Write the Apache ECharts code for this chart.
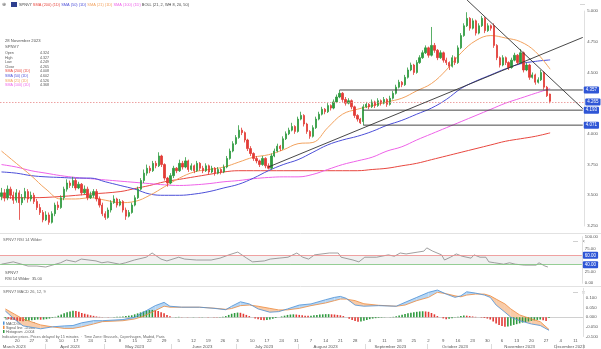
<!DOCTYPE html>
<html><head><meta charset="utf-8">
<script src="https://cdn.jsdelivr.net/npm/echarts@6/dist/echarts.min.js"></script>
<style>html,body{margin:0;padding:0;background:#fff}#c{width:601px;height:349px}</style>
</head><body><div id="c"></div>
<script>
// ---------- DATA ----------
const seriesName = 'SPNV7';
const infoDate = '28 November 2023';
const opens=[3.49,3.52,3.48,3.55,3.50,3.46,3.52,3.44,3.48,3.53,
3.47,3.50,3.45,3.40,3.36,3.30,3.34,3.28,3.35,3.42,
3.40,3.48,3.55,3.60,3.58,3.62,3.56,3.59,3.52,3.55,
3.48,3.50,3.53,3.47,3.42,3.35,3.32,3.38,3.44,3.47,
3.42,3.45,3.38,3.33,3.36,3.42,3.48,3.55,3.62,3.68,
3.72,3.70,3.76,3.74,3.82,3.75,3.64,3.60,3.66,3.72,
3.70,3.76,3.73,3.78,3.71,3.74,3.70,3.76,3.72,3.70,
3.74,3.69,3.72,3.68,3.71,3.69,3.73,3.80,3.86,3.92,
3.97,4.03,4.01,3.95,3.88,3.84,3.80,3.78,3.75,3.80,
3.74,3.72,3.82,3.86,3.90,3.88,3.96,4.00,4.03,4.06,
4.02,4.12,4.15,4.08,4.02,3.98,4.05,4.12,4.16,4.20,
4.18,4.23,4.21,4.26,4.30,4.33,4.28,4.25,4.27,4.22,
4.15,4.12,4.10,4.22,4.24,4.22,4.26,4.23,4.27,4.25,
4.28,4.24,4.29,4.33,4.38,4.42,4.40,4.46,4.52,4.56,
4.50,4.58,4.62,4.66,4.70,4.64,4.72,4.68,4.62,4.66,
4.60,4.58,4.55,4.62,4.58,4.70,4.80,4.88,4.94,4.86,
4.92,4.82,4.88,4.94,4.84,4.88,4.88,4.72,4.62,4.56,
4.62,4.58,4.54,4.60,4.64,4.58,4.66,4.52,4.56,4.46,
4.48,4.42,4.44,4.50,4.38,4.324];
const closes=[3.52,3.48,3.55,3.50,3.46,3.52,3.44,3.48,3.53,3.47,
3.50,3.45,3.40,3.36,3.30,3.34,3.28,3.35,3.42,3.40,
3.48,3.55,3.60,3.58,3.62,3.56,3.59,3.52,3.55,3.48,
3.50,3.53,3.47,3.42,3.35,3.32,3.38,3.44,3.47,3.42,
3.45,3.38,3.33,3.36,3.42,3.48,3.55,3.62,3.68,3.72,
3.70,3.76,3.74,3.82,3.75,3.64,3.60,3.66,3.72,3.70,
3.76,3.73,3.78,3.71,3.74,3.70,3.76,3.72,3.70,3.74,
3.69,3.72,3.68,3.71,3.69,3.73,3.80,3.86,3.92,3.97,
4.03,4.01,3.95,3.88,3.84,3.80,3.78,3.75,3.80,3.74,
3.72,3.82,3.86,3.90,3.88,3.96,4.00,4.03,4.06,4.02,
4.12,4.15,4.08,4.02,3.98,4.05,4.12,4.16,4.20,4.18,
4.23,4.21,4.26,4.30,4.33,4.28,4.25,4.27,4.22,4.15,
4.12,4.09,4.22,4.24,4.22,4.26,4.23,4.27,4.25,4.28,
4.24,4.29,4.33,4.38,4.42,4.40,4.46,4.52,4.56,4.50,
4.58,4.62,4.66,4.70,4.64,4.72,4.68,4.62,4.66,4.60,
4.58,4.55,4.62,4.58,4.70,4.80,4.88,4.94,4.86,4.92,
4.82,4.88,4.94,4.84,4.88,4.86,4.72,4.62,4.56,4.62,
4.58,4.54,4.60,4.64,4.58,4.66,4.52,4.56,4.46,4.48,
4.42,4.44,4.50,4.38,4.31,4.265];
const highs=[3.56,3.55,3.58,3.57,3.53,3.55,3.54,3.51,3.56,3.55,
3.53,3.52,3.47,3.43,3.38,3.37,3.36,3.37,3.44,3.45,
3.50,3.57,3.63,3.62,3.65,3.64,3.61,3.60,3.58,3.57,
3.53,3.55,3.55,3.49,3.44,3.37,3.40,3.46,3.50,3.48,
3.47,3.46,3.40,3.38,3.44,3.50,3.57,3.64,3.71,3.75,
3.74,3.78,3.78,3.85,3.83,3.76,3.65,3.68,3.74,3.73,
3.79,3.78,3.81,3.79,3.76,3.75,3.78,3.77,3.74,3.76,
3.75,3.74,3.73,3.73,3.72,3.75,3.82,3.88,3.94,3.99,
4.07,4.05,4.02,3.96,3.90,3.85,3.82,3.79,3.82,3.81,
3.76,3.84,3.88,3.92,3.91,3.98,4.02,4.05,4.09,4.07,
4.14,4.18,4.16,4.09,4.03,4.07,4.14,4.18,4.22,4.21,
4.25,4.24,4.28,4.32,4.357,4.34,4.30,4.29,4.28,4.23,
4.16,4.13,4.24,4.26,4.25,4.28,4.27,4.29,4.28,4.30,
4.29,4.31,4.35,4.40,4.44,4.43,4.48,4.54,4.58,4.57,
4.60,4.64,4.68,4.72,4.71,4.87,4.74,4.69,4.68,4.67,
4.62,4.59,4.64,4.63,4.72,4.82,4.90,4.99,4.95,4.94,
4.93,4.90,4.96,4.95,4.90,4.89,4.90,4.73,4.63,4.64,
4.63,4.59,4.62,4.66,4.65,4.69,4.67,4.58,4.57,4.50,
4.49,4.46,4.52,4.51,4.39,4.327];
const lows=[3.46,3.45,3.46,3.47,3.43,3.44,3.30,3.42,3.46,3.44,
3.45,3.43,3.38,3.34,3.28,3.29,3.26,3.27,3.33,3.38,
3.39,3.46,3.53,3.56,3.56,3.54,3.55,3.50,3.51,3.46,
3.47,3.48,3.45,3.40,3.33,3.30,3.31,3.36,3.43,3.40,
3.41,3.36,3.30,3.32,3.35,3.41,3.47,3.54,3.60,3.66,
3.68,3.69,3.72,3.73,3.73,3.62,3.57,3.59,3.64,3.68,
3.69,3.71,3.72,3.69,3.70,3.68,3.69,3.70,3.68,3.69,
3.67,3.68,3.66,3.67,3.67,3.68,3.72,3.79,3.85,3.91,
3.96,3.99,3.93,3.86,3.82,3.78,3.76,3.73,3.74,3.72,
3.71,3.71,3.81,3.85,3.86,3.87,3.95,3.99,4.02,4.00,
4.01,4.11,4.06,4.00,3.96,3.97,4.04,4.11,4.15,4.16,
4.17,4.19,4.20,4.25,4.29,4.26,4.23,4.24,4.20,4.13,
4.10,4.08,4.071,4.21,4.20,4.21,4.21,4.22,4.23,4.24,
4.22,4.23,4.28,4.32,4.37,4.38,4.39,4.45,4.51,4.48,
4.49,4.57,4.61,4.65,4.62,4.63,4.66,4.60,4.61,4.58,
4.56,4.52,4.54,4.56,4.57,4.69,4.79,4.87,4.84,4.85,
4.80,4.81,4.87,4.82,4.83,4.84,4.70,4.60,4.54,4.55,
4.56,4.52,4.53,4.59,4.56,4.57,4.50,4.51,4.44,4.45,
4.40,4.41,4.43,4.36,4.30,4.249];
// moving averages: [candle index, value]
const sma21=[[0,3.86],[5,3.76],[10,3.66],[15,3.55],[20,3.47],[25,3.47],[30,3.48],[35,3.46],[40,3.44],[45,3.45],[50,3.50],[55,3.57],[60,3.64],[65,3.69],[70,3.71],[75,3.73],[80,3.77],[85,3.81],[90,3.83],[95,3.87],[100,3.92],[105,3.93],[110,4.05],[115,4.16],[120,4.20],[125,4.23],[130,4.26],[135,4.29],[140,4.35],[145,4.41],[150,4.52],[155,4.66],[160,4.76],[165,4.80],[170,4.78],[175,4.75],[180,4.67],[185,4.526]];
const sma50=[[0,3.69],[5,3.68],[10,3.66],[15,3.65],[20,3.645],[25,3.64],[30,3.64],[35,3.61],[40,3.58],[45,3.55],[50,3.51],[55,3.50],[60,3.50],[65,3.51],[70,3.53],[75,3.56],[80,3.59],[85,3.64],[90,3.70],[95,3.75],[100,3.79],[105,3.85],[110,3.91],[115,3.95],[120,3.98],[125,4.02],[130,4.07],[135,4.11],[140,4.16],[145,4.21],[150,4.28],[155,4.37],[160,4.43],[165,4.48],[170,4.53],[175,4.57],[180,4.59],[185,4.602]];
const sma100=[[0,3.75],[5,3.73],[10,3.70],[15,3.68],[20,3.66],[25,3.645],[30,3.635],[35,3.625],[40,3.615],[45,3.605],[50,3.595],[55,3.585],[60,3.58],[65,3.585],[70,3.595],[75,3.61],[80,3.62],[85,3.635],[90,3.645],[95,3.65],[100,3.65],[105,3.67],[110,3.71],[115,3.75],[120,3.78],[125,3.81],[130,3.86],[135,3.895],[140,3.95],[145,4.00],[150,4.05],[155,4.10],[160,4.15],[165,4.20],[170,4.25],[175,4.29],[180,4.33],[185,4.368]];
const sma200=[[0,3.48],[10,3.48],[20,3.49],[30,3.51],[40,3.53],[45,3.555],[50,3.58],[55,3.61],[60,3.63],[65,3.65],[70,3.67],[75,3.69],[80,3.70],[90,3.70],[100,3.70],[110,3.70],[120,3.70],[125,3.71],[130,3.72],[135,3.74],[140,3.76],[145,3.79],[150,3.82],[155,3.85],[160,3.88],[165,3.91],[170,3.94],[175,3.96],[180,3.98],[185,4.008]];
// drawn trend lines and levels: [candle index, price]
const trendDown=[[157,5.089],[196,4.205]];
const trendUp=[[90,3.73],[196,4.785]];
const levels=[{from:114,price:4.357},{from:122,price:4.193},{from:122,price:4.071}];
const lastPrice=4.265;
// RSI
const rsi=[[0,41],[4,46],[9,37],[12,37],[15,35],[20,44],[22,50],[25,46],[27,52],[32,48],[34,44],[36,46],[40,41],[42,44],[45,50],[49,56],[51,65],[54,52],[56,48],[60,56],[62,52],[66,50],[71,50],[74,54],[77,61],[80,67],[83,54],[85,46],[89,48],[91,52],[94,54],[97,56],[100,65],[102,56],[104,52],[106,61],[111,65],[114,65],[115,56],[119,50],[121,46],[123,56],[127,56],[131,61],[133,58],[135,65],[137,63],[141,67],[143,69],[144,76],[146,69],[149,61],[150,50],[152,56],[154,63],[156,58],[159,54],[160,61],[162,56],[164,56],[165,46],[167,44],[170,41],[172,44],[174,41],[177,39],[181,39],[182,44],[184,37],[185,35]];
const rsiUpper=60, rsiLower=40;
// MACD: [candle index, MACD line, signal line]
const macd=[[0,0.032,0.043],[3,-0.009,0.017],[6,-0.045,-0.009],[12,-0.060,-0.040],[16,-0.050,-0.050],[20,-0.045,-0.058],[23,-0.043,-0.058],[26,-0.029,-0.050],[30,-0.018,-0.035],[33,-0.018,-0.023],[40,-0.012,-0.018],[44,0.000,-0.009],[47,0.026,0.005],[51,0.060,0.034],[54,0.077,0.057],[56,0.057,0.052],[60,0.052,0.052],[66,0.052,0.052],[71,0.046,0.047],[75,0.039,0.041],[77,0.057,0.045],[80,0.080,0.060],[83,0.069,0.063],[86,0.043,0.057],[90,0.026,0.046],[93,0.029,0.038],[96,0.043,0.038],[100,0.063,0.046],[104,0.069,0.060],[109,0.091,0.074],[112,0.103,0.086],[114,0.108,0.094],[116,0.098,0.094],[119,0.063,0.086],[122,0.057,0.070],[127,0.060,0.062],[133,0.057,0.057],[136,0.077,0.063],[140,0.103,0.086],[144,0.129,0.103],[147,0.141,0.129],[150,0.120,0.122],[153,0.103,0.111],[155,0.111,0.106],[157,0.132,0.115],[160,0.125,0.120],[163,0.115,0.120],[165,0.103,0.111],[167,0.063,0.094],[170,0.026,0.069],[172,0.000,0.043],[175,-0.018,0.012],[179,-0.035,-0.009],[182,-0.043,-0.023],[185,-0.068,-0.064]];
// histogram, thousandths
const hist=[-5,-8,-12,-15,-18,-20,-21,-20,-18,-16,-14,-12,-13,-12,-10,-7,-3,2,8,14,20,26,30,33,32,28,22,18,14,10,7,4,2,1,0,-1,0,1,2,3,4,6,8,10,15,20,25,30,34,37,38,36,32,26,20,12,5,0,1,2,1,0,-1,0,1,0,-1,-1,0,-1,0,-1,-2,-1,2,6,12,18,22,24,23,18,12,6,0,-6,-10,-14,-16,-15,-12,-8,-4,0,4,8,12,14,15,14,12,10,8,7,8,10,12,14,15,16,16,15,14,12,10,6,0,-8,-14,-20,-24,-22,-18,-14,-10,-7,-5,-3,-2,-1,0,1,2,5,9,13,17,20,23,26,28,30,31,30,28,22,15,6,0,-6,-10,-8,-5,-2,2,6,9,8,6,4,2,0,-2,-4,-7,-12,-22,-32,-40,-46,-50,-48,-44,-40,-36,-32,-28,-25,-22,-19,-16,-14,-12,-16,-20,-4];
const monthLabelDays={'2023-03-17':'March 2023','2023-04-13':'April 2023','2023-05-15':'May 2023','2023-06-15':'June 2023','2023-07-14':'July 2023','2023-08-14':'August 2023','2023-09-13':'September 2023','2023-10-13':'October 2023','2023-11-14':'November 2023','2023-12-07':'December 2023'};

// ---------- CATEGORIES (weekdays) ----------
const N=197;
const dates=[];
{let d=new Date(Date.UTC(2023,2,14));while(dates.length<N){const w=d.getUTCDay();if(w&&w!==6)dates.push(d.toISOString().slice(0,10));d.setUTCDate(d.getUTCDate()+1);}}
const isMonday=s=>new Date(s+'T00:00:00Z').getUTCDay()===1;
const isMonthStart=(s,i)=>i>0&&s.slice(5,7)!==dates[i-1].slice(5,7);

// ---------- STYLE ----------
const UP='#2f9a3f',DN='#e23b36';
const C200='#e8473f',C50='#4c4fd8',C21='#f2a25e',C100='#ee62e8';
const FONT='Liberation Sans, Arial, sans-serif';
const chart=echarts.init(document.getElementById('c'));
const W=591;
const grids=[{left:0,top:11,width:W,height:215},{left:0,top:236.7,width:W,height:46.6},{left:0,top:288.3,width:W,height:50}];
const hidX=g=>({type:'category',data:dates,gridIndex:g,boundaryGap:true,axisLine:{show:false},axisTick:{show:false},axisLabel:{show:false},splitLine:{show:false}});
const candleData=opens.map((o,i)=>[o,closes[i],lows[i],highs[i]]);
const histData=hist.map((v,i)=>({value:v/1000,itemStyle:{color:(i>0&&v<hist[i-1])?DN:UP}}));
const segs=[];for(let k=0;k<macd.length-1;k++)segs.push([macd[k][0],macd[k][1],macd[k][2],macd[k+1][0],macd[k+1][1],macd[k+1][2]]);
const blueBox={show:true,backgroundColor:'#2f56d6',color:'#fff',fontSize:4.5,fontFamily:FONT,padding:[1,2],borderRadius:1,distance:1};
const lineS=(name,data,color)=>({name,type:'line',data,xAxisIndex:0,yAxisIndex:0,smooth:0.4,symbol:'none',lineStyle:{color,width:1},z:3,silent:true});

const texts=[];
const T=(x,y,text,fill,size,extra)=>texts.push(Object.assign({type:'text',left:x,top:y,style:{text,fill:fill||'#444',font:`${size||4.5}px ${FONT}`}},extra||{}));
// header legend (rich text so segments flow)
texts.push({type:'rect',left:11,top:2,shape:{width:6,height:5},style:{fill:'#2e3f8f'}});
T(2,2.5,'\u2295','#666',5);
const hdr=[['k',seriesName],['r','SMA (200) (1D)'],['b','SMA (50) (1D)'],['o','SMA (21) (1D)'],['m','SMA (100) (1D)'],['k','BOLL (21, 2, WH 8, 20, 50)']];
const rs=(c)=>({fill:c,fontSize:3.9,fontFamily:FONT});
texts.push({type:'text',left:19,top:3,style:{text:hdr.map(h=>`{${h[0]}|${h[1]}}`).join(' '),font:`3.9px ${FONT}`,rich:{k:rs('#444'),r:rs(C200),b:rs(C50),o:rs(C21),m:rs(C100)}}});
T(580,2,'\u2014','#999',5);
// main info box
const L=opens.length-1;
T(5,39,infoDate,'#555',4.2);T(5,45,seriesName,'#555',4.2);
const rows=[['Open',opens[L].toFixed(3),'#555'],['High',highs[L].toFixed(3),'#555'],['Low',lows[L].toFixed(3),'#555'],['Close',closes[L].toFixed(3),'#555'],['SMA (200) (1D)',sma200[sma200.length-1][1].toFixed(3),C200],['SMA (50) (1D)',sma50[sma50.length-1][1].toFixed(3),C50],['SMA (21) (1D)',sma21[sma21.length-1][1].toFixed(3),C21],['SMA (100) (1D)',sma100[sma100.length-1][1].toFixed(3),C100]];
rows.forEach((r,k)=>{T(5,51+k*4.6,r[0],r[2],3.6);texts.push({type:'text',left:40,top:51+k*4.6,style:{text:r[1],fill:'#555',font:`3.6px ${FONT}`,textAlign:'right'}});});
// RSI panel texts
T(3,238,seriesName+' RSI 14 Wilder','#666',4);
T(5,271,seriesName,'#555',4);T(5,276.5,'RSI 14 Wilder  '+rsi[rsi.length-1][1].toFixed(2),'#555',4);
T(573,239,'\u2014','#888',5);T(582,239,'\u00d7','#888',5);
// MACD panel texts
T(3,289.5,seriesName+' MACD 26, 12, 9','#666',4);
T(573,290,'\u2014','#888',5);T(582,290,'\u00d7','#888',5);
const lm=macd[macd.length-1];
T(5,316.5,seriesName,'#555',3.8);
[['MACD line',lm[1].toFixed(3),'#4a8fd6'],['Signal line',lm[2].toFixed(3),'#ee8a3c'],['Histogram',(hist[hist.length-1]/1000).toFixed(3),UP]].forEach((r,k)=>{texts.push({type:'rect',left:3,top:321.5+k*4.2,shape:{width:1.5,height:3.2},style:{fill:r[2]}});T(6,321.5+k*4.2,r[0]+'  '+r[1],'#555',3.6);});
T(2,335.2,'Indicative prices. Prices delayed by 15 minutes  \u00b7  Time Zone: Brussels, Copenhagen, Madrid, Paris','#666',3.7);
// separators
const sep=(y)=>texts.push({type:'line',shape:{x1:0,y1:y,x2:601,y2:y},style:{stroke:'#e2e2e2',lineWidth:1},silent:true});
sep(233.5);sep(286.5);

const option={
 animation:false,
 textStyle:{fontFamily:FONT},
 grid:grids,
 xAxis:[hidX(0),hidX(1),
  {type:'category',data:dates,gridIndex:2,boundaryGap:true,axisLine:{show:true,lineStyle:{color:'#d0d0d0'}},axisTick:{show:false},splitLine:{show:false},
   axisLabel:{interval:0,fontSize:4.3,color:'#555',margin:2,formatter:(v)=>isMonday(v)?String(+v.slice(8,10)):''}},
  {type:'category',data:dates,gridIndex:2,position:'bottom',offset:7.5,boundaryGap:true,axisLine:{show:false},
   axisTick:{show:true,inside:false,length:6,lineStyle:{color:'#dcdcdc'},interval:(i,v)=>isMonthStart(v,i)},
   axisLabel:{interval:0,fontSize:4.3,color:'#555',margin:1,formatter:(v)=>monthLabelDays[v]||''}}],
 yAxis:[
  {type:'value',gridIndex:0,position:'right',min:3.25,max:5.0,interval:0.25,axisLine:{show:true,lineStyle:{color:'#e0e0e0'}},axisTick:{show:false},splitLine:{show:false},axisLabel:{fontSize:4.3,color:'#555',margin:3,formatter:v=>v.toFixed(3)}},
  {type:'value',gridIndex:1,position:'right',min:0,max:100,interval:25,axisLine:{show:true,lineStyle:{color:'#e0e0e0'}},axisTick:{show:false},splitLine:{show:false},axisLabel:{fontSize:4.3,color:'#555',margin:3,formatter:v=>v===50?'':v.toFixed(2)}},
  {type:'value',gridIndex:2,position:'right',min:-0.1,max:0.15,interval:0.05,axisLine:{show:true,lineStyle:{color:'#e0e0e0'}},axisTick:{show:false},splitLine:{show:false},axisLabel:{fontSize:4.3,color:'#555',margin:3,showMaxLabel:false,formatter:v=>v.toFixed(3)}}],
 series:[
  lineS('SMA 200',sma200,C200),lineS('SMA 100',sma100,C100),lineS('SMA 50',sma50,C50),lineS('SMA 21',sma21,C21),
  {type:'candlestick',xAxisIndex:0,yAxisIndex:0,data:candleData,barWidth:1.8,z:4,
   itemStyle:{color:UP,color0:DN,borderColor:UP,borderColor0:DN,borderWidth:0.8},
   markLine:{symbol:'none',silent:true,lineStyle:{color:'#e98a8a',type:[1.5,1.5],width:0.8},label:Object.assign({},blueBox,{position:'end',formatter:()=>lastPrice.toFixed(3)}),data:[{yAxis:lastPrice}]}},
  {type:'line',data:trendDown,xAxisIndex:0,yAxisIndex:0,symbol:'none',clip:false,lineStyle:{color:'#333',width:0.9},z:5},
  {type:'line',data:trendUp,xAxisIndex:0,yAxisIndex:0,symbol:'none',clip:false,lineStyle:{color:'#333',width:0.9},z:5},
  ...levels.map(l=>({type:'line',data:[[l.from,l.price],[N-1,l.price]],xAxisIndex:0,yAxisIndex:0,symbol:'none',lineStyle:{color:'#333',width:0.9},z:5,
    endLabel:Object.assign({},blueBox,{formatter:()=>l.price.toFixed(3)})})),
  // RSI
  {type:'line',xAxisIndex:1,yAxisIndex:1,data:rsi,symbol:'none',lineStyle:{color:'#888',width:0.8},z:4,
   markArea:{silent:true,itemStyle:{color:'rgba(225,225,225,0.45)'},data:[[{yAxis:rsiLower},{yAxis:rsiUpper}]]},
   markLine:{symbol:'none',silent:true,label:Object.assign({},blueBox,{position:'end',formatter:p=>p.value.toFixed(2)}),
    data:[{yAxis:rsiUpper,lineStyle:{color:'#ee8c8c',type:'solid',width:0.8}},{yAxis:rsiLower,lineStyle:{color:'#7cc47c',type:'solid',width:0.8}}]}},
  // MACD
  {type:'custom',xAxisIndex:2,yAxisIndex:2,data:segs,silent:true,z:1,dimensions:['x0','m0','s0','x1','m1','s1'],encode:{x:[0,3],y:[1,2,4,5]},
   renderItem:(p,api)=>{
     const x0=api.value(0),m0=api.value(1),s0=api.value(2),x1=api.value(3),m1=api.value(4),s1=api.value(5);
     const d0=m0-s0,d1=m1-s1,col=d=>d>=0?'#b6d6f4':'#f8cba8';
     if(d0*d1<0){const t=d0/(d0-d1),xc=x0+(x1-x0)*t,yc=m0+(m1-m0)*t;const P=api.coord([xc,yc]);
       return {type:'group',children:[
        {type:'polygon',shape:{points:[api.coord([x0,m0]),P,api.coord([x0,s0])]},style:{fill:col(d0)}},
        {type:'polygon',shape:{points:[P,api.coord([x1,m1]),api.coord([x1,s1])]},style:{fill:col(d1)}}]};}
     return {type:'polygon',shape:{points:[api.coord([x0,m0]),api.coord([x1,m1]),api.coord([x1,s1]),api.coord([x0,s0])]},style:{fill:col(d0+d1)}};
   }},
  {type:'bar',xAxisIndex:2,yAxisIndex:2,data:histData,barWidth:1.6,z:2,silent:true},
  {type:'line',xAxisIndex:2,yAxisIndex:2,data:macd.map(r=>[r[0],r[2]]),symbol:'none',lineStyle:{color:'#ee8a3c',width:0.8},z:3},
  {type:'line',xAxisIndex:2,yAxisIndex:2,data:macd.map(r=>[r[0],r[1]]),symbol:'none',lineStyle:{color:'#4a8fd6',width:0.8},z:3}
 ],
 graphic:texts
};
chart.setOption(option);
</script></body></html>
